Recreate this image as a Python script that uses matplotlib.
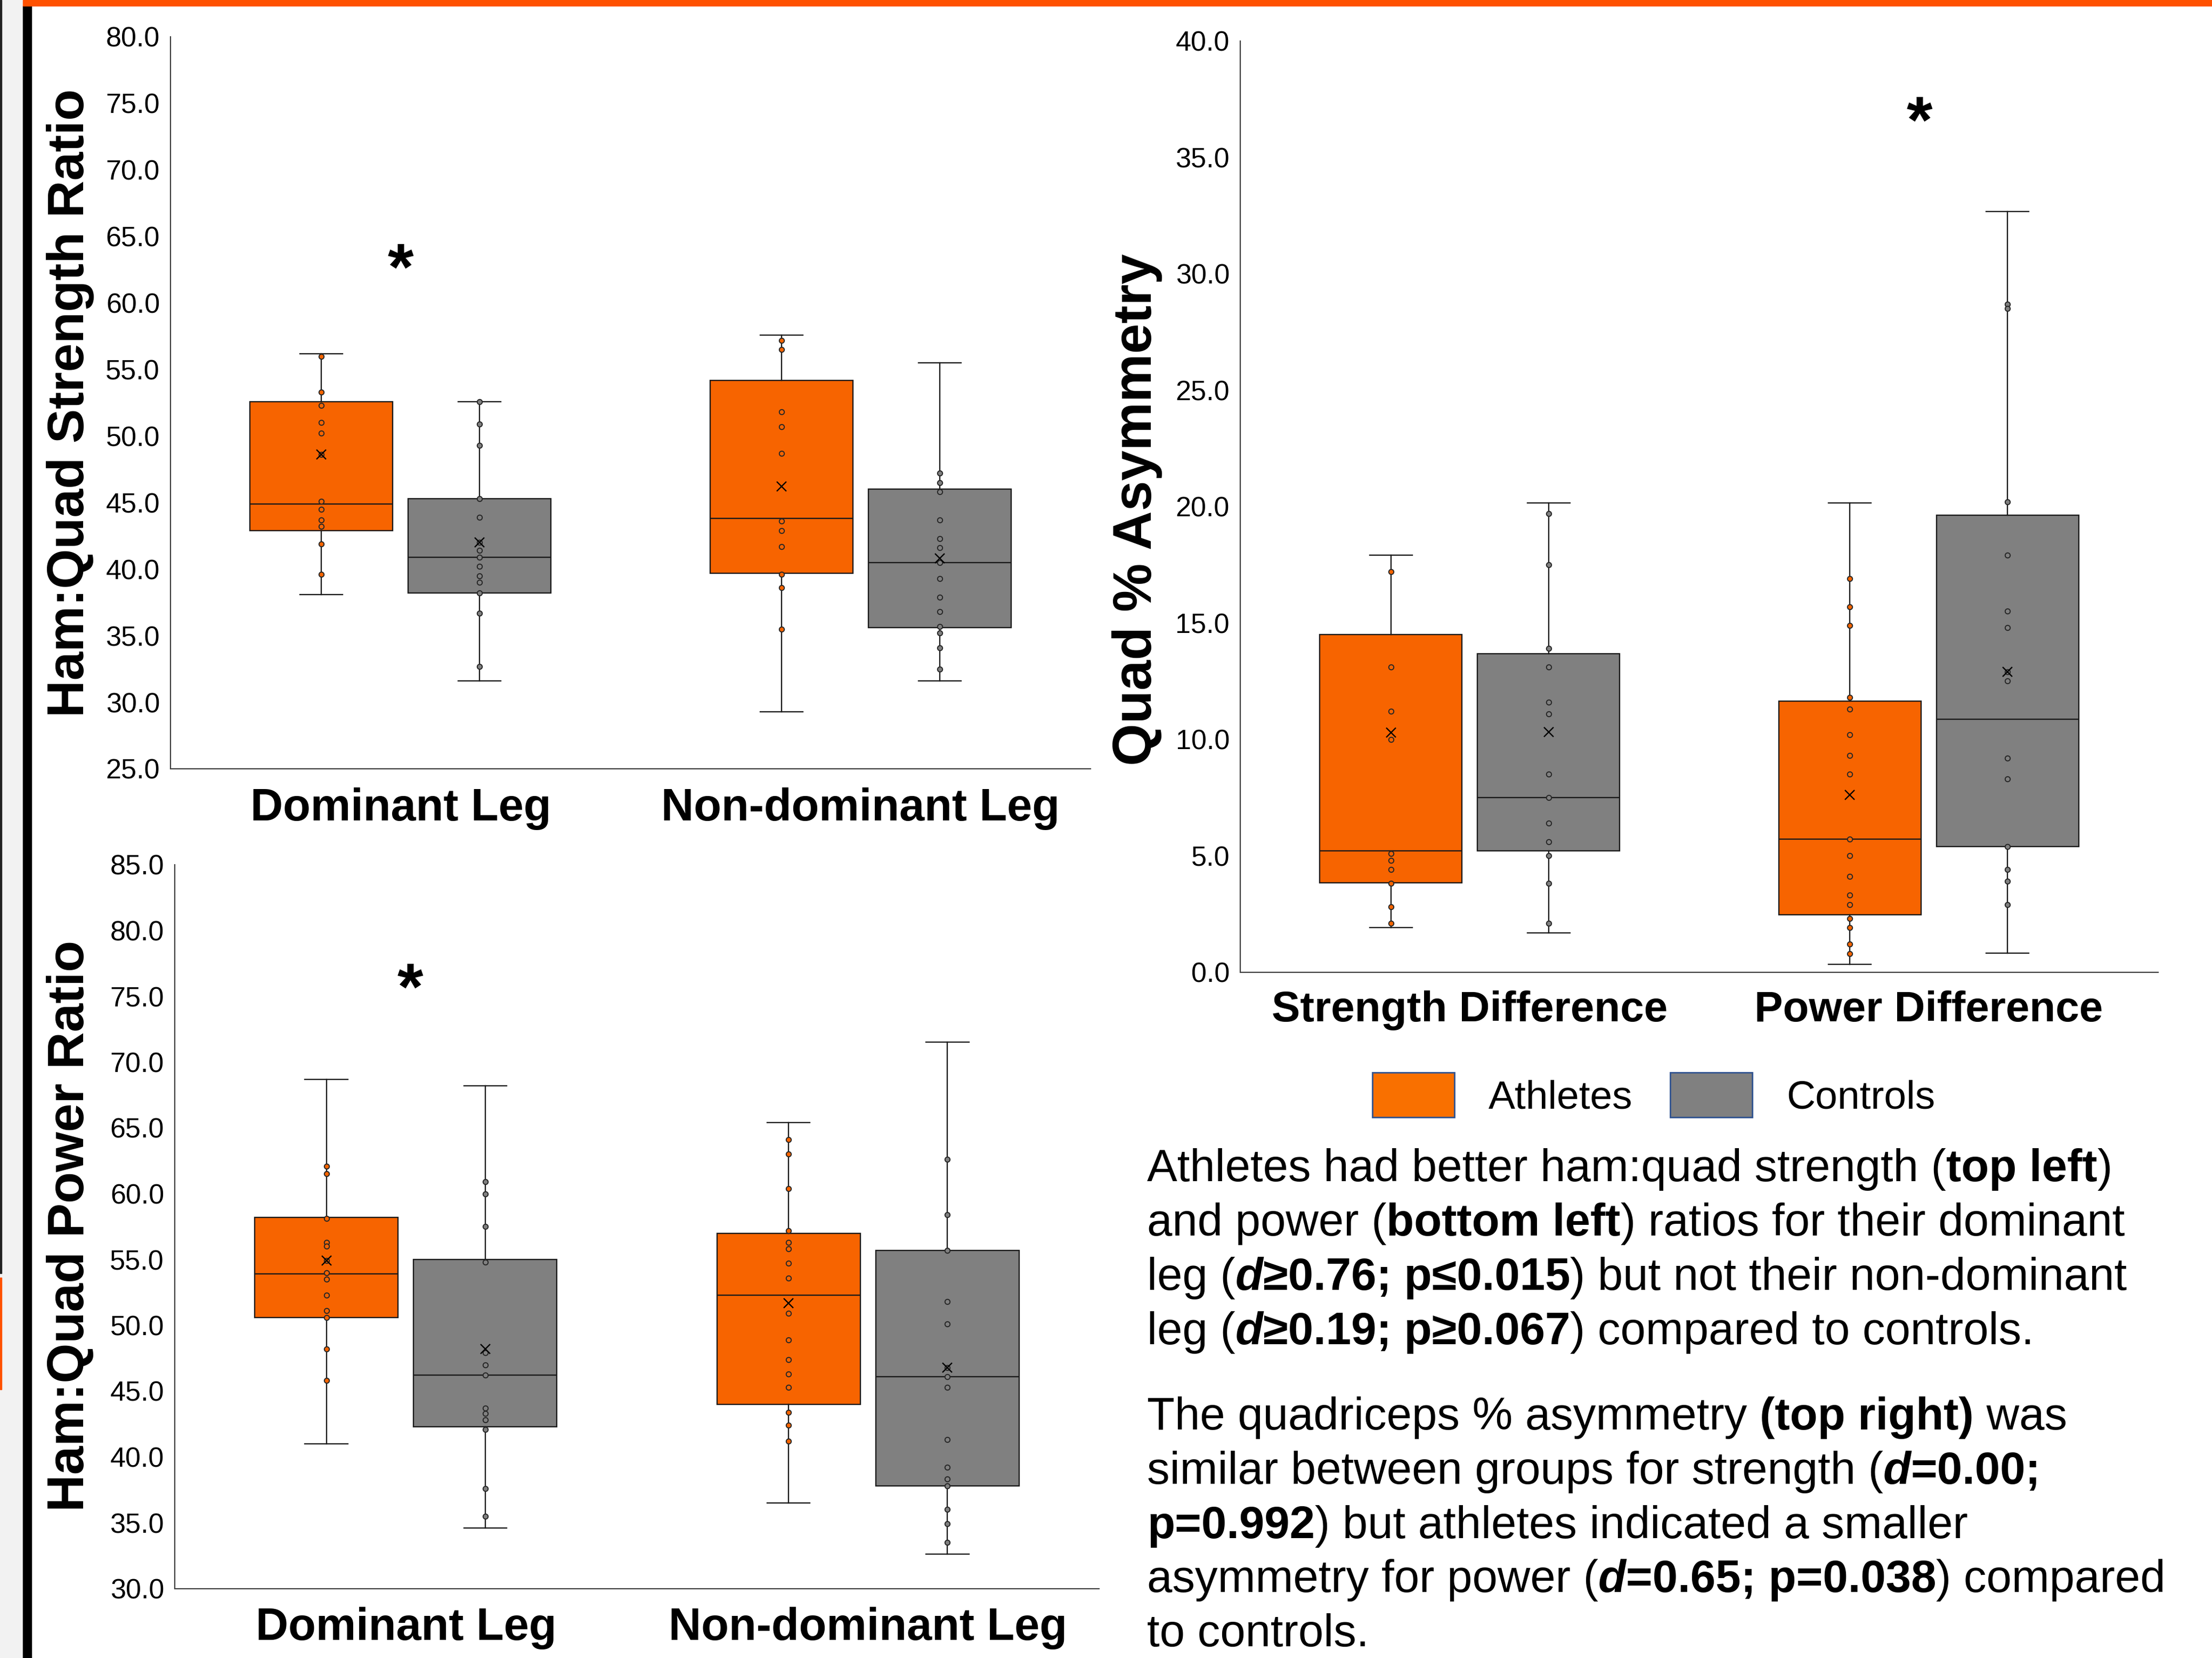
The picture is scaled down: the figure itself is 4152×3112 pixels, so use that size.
import numpy as np
import matplotlib
matplotlib.use("Agg")
import matplotlib.pyplot as plt
from matplotlib.patches import Rectangle, Patch

plt.rcParams['font.family'] = ['Liberation Sans', 'DejaVu Sans']

# ---------------- DATA ----------------
ratio_categories = ["Dominant Leg", "Non-dominant Leg"]
asym_categories = ["Strength Difference", "Power Difference"]
groups = ["Athletes", "Controls"]

# Ham:Quad Strength Ratio (top left) -- box stats [Dominant, Non-dominant]
str_ath_q1 = [42.9, 39.7]
str_ath_med = [44.9, 43.8]
str_ath_q3 = [52.6, 54.2]
str_ath_lo = [38.1, 29.3]
str_ath_hi = [56.2, 57.6]
str_ath_mean = [48.6, 46.2]
str_ath_pts_dom = [56.0, 53.3, 52.3, 51.0, 50.2, 48.6, 45.1, 44.5, 43.7, 43.2, 41.9, 39.6]
str_ath_pts_nondom = [57.2, 56.5, 51.8, 50.7, 48.7, 43.6, 42.9, 41.7, 39.6, 38.6, 35.5]

str_con_q1 = [38.2, 35.6]
str_con_med = [40.9, 40.5]
str_con_q3 = [45.3, 46.0]
str_con_lo = [31.6, 31.6]
str_con_hi = [52.6, 55.5]
str_con_mean = [42.0, 40.8]
str_con_pts_dom = [52.6, 50.9, 49.3, 45.3, 43.9, 42.0, 41.4, 40.9, 40.2, 39.5, 39.0, 38.2, 36.7, 32.7]
str_con_pts_nondom = [47.2, 46.5, 45.8, 43.7, 42.3, 41.6, 40.5, 39.3, 37.9, 36.8, 35.7, 35.2, 34.1, 32.5]

# Ham:Quad Power Ratio (bottom left)
pow_ath_q1 = [50.6, 44.0]
pow_ath_med = [53.9, 52.3]
pow_ath_q3 = [58.2, 57.0]
pow_ath_lo = [41.0, 36.5]
pow_ath_hi = [68.7, 65.4]
pow_ath_mean = [54.9, 51.7]
pow_ath_pts_dom = [62.1, 61.5, 58.1, 56.3, 56.0, 54.9, 54.0, 53.5, 52.3, 51.1, 50.6, 48.2, 45.8]
pow_ath_pts_nondom = [64.1, 63.0, 60.4, 57.2, 56.3, 55.8, 54.7, 53.6, 50.9, 48.9, 47.4, 46.3, 45.3, 43.4, 42.4, 41.2]

pow_con_q1 = [42.3, 37.8]
pow_con_med = [46.2, 46.1]
pow_con_q3 = [55.0, 55.7]
pow_con_lo = [34.6, 32.6]
pow_con_hi = [68.2, 71.5]
pow_con_mean = [48.2, 46.8]
pow_con_pts_dom = [60.9, 60.0, 57.5, 54.8, 47.9, 47.0, 46.2, 43.7, 43.3, 42.8, 42.1, 37.6, 35.5]
pow_con_pts_nondom = [62.6, 58.4, 55.7, 51.8, 50.1, 46.8, 46.1, 45.3, 41.3, 39.2, 38.3, 37.8, 36.0, 34.9, 33.5]

# Quad % Asymmetry (top right) -- [Strength Difference, Power Difference]
asy_ath_q1 = [3.83, 2.45]
asy_ath_med = [5.21, 5.70]
asy_ath_q3 = [14.50, 11.63]
asy_ath_lo = [1.90, 0.33]
asy_ath_hi = [17.91, 20.16]
asy_ath_mean = [10.28, 7.62]
asy_ath_pts_str = [17.2, 13.1, 11.2, 10.0, 5.1, 4.8, 4.4, 3.8, 2.8, 2.1]
asy_ath_pts_pow = [16.9, 15.7, 14.9, 11.8, 11.3, 10.2, 9.3, 8.5, 5.7, 5.0, 4.1, 3.3, 2.9, 2.3, 1.9, 1.2, 0.8]

asy_con_q1 = [5.20, 5.40]
asy_con_med = [7.49, 10.86]
asy_con_q3 = [13.68, 19.62]
asy_con_lo = [1.68, 0.82]
asy_con_hi = [20.16, 32.67]
asy_con_mean = [10.31, 12.89]
asy_con_pts_str = [19.7, 17.5, 13.9, 13.1, 11.6, 11.1, 8.5, 7.5, 6.4, 5.6, 5.0, 3.8, 2.1]
asy_con_pts_pow = [28.7, 28.5, 20.2, 17.9, 15.5, 14.8, 12.9, 12.5, 9.2, 8.3, 5.4, 4.4, 3.9, 2.9]

# ---------------- STYLE ----------------
W, H = 4152, 3112
ORANGE = '#F76400'
GREY = '#808080'
LEG_ORANGE = '#F97000'
EDGE = '#1a1a1a'
AXCOL = '#3a3a3a'
OFFSET = 0.172
BOXW = 0.31
CAPW = 0.093
TICK_FS = 37.5
XLAB_FS = 61
YLAB_FS = 69.5
TXT_FS = 61.3

fig = plt.figure(figsize=(W / 100, H / 100), dpi=100)
fig.patch.set_facecolor('white')


def px_axes(x0, y0, x1, y1):
    return fig.add_axes([x0 / W, 1 - y1 / H, (x1 - x0) / W, (y1 - y0) / H])


def make_stats(q1, med, q3, lo, hi, mean):
    return [dict(q1=q1[i], med=med[i], q3=q3[i], whislo=lo[i], whishi=hi[i],
                 mean=mean[i], fliers=[]) for i in range(len(q1))]


def draw_group(ax, stats, pts_lists, positions, color):
    r = ax.bxp(stats, positions=positions, widths=BOXW, capwidths=CAPW,
               patch_artist=True, showmeans=True, showfliers=False,
               boxprops=dict(facecolor=color, edgecolor=EDGE, linewidth=1.7),
               medianprops=dict(color=EDGE, linewidth=1.7),
               whiskerprops=dict(color=EDGE, linewidth=1.7),
               capprops=dict(color=EDGE, linewidth=1.7),
               meanprops=dict(marker='x', markeredgecolor='black',
                              markersize=13, markeredgewidth=1.7))
    for pos, pts in zip(positions, pts_lists):
        ax.plot(np.full(len(pts), pos), pts, linestyle='none', marker='o',
                markersize=6.8, markerfacecolor=color, markeredgecolor='#262626',
                markeredgewidth=1.4, zorder=4)
    for m in r['means']:
        m.set_zorder(5)


def style_axes(ax, ylim, yticks, cats, xfs):
    ax.set_xlim(-0.5, 1.5)
    ax.set_ylim(*ylim)
    ax.set_yticks(yticks)
    ax.set_yticklabels([f"{v:.1f}" for v in yticks])
    ax.set_xticks([0, 1])
    ax.set_xticklabels(cats, fontweight='bold', fontsize=xfs)
    ax.tick_params(axis='y', length=0, pad=14.4, labelsize=TICK_FS)
    ax.tick_params(axis='x', length=0, pad=25)
    for s in ['top', 'right']:
        ax.spines[s].set_visible(False)
    for s in ['left', 'bottom']:
        ax.spines[s].set_color(AXCOL)
        ax.spines[s].set_linewidth(1.5)
    ax.set_facecolor('none')


# ---------- Top-left: strength ratio ----------
ax1 = px_axes(320, 69, 2047, 1443)
draw_group(ax1, make_stats(str_ath_q1, str_ath_med, str_ath_q3, str_ath_lo, str_ath_hi, str_ath_mean),
           [str_ath_pts_dom, str_ath_pts_nondom], [0 - OFFSET, 1 - OFFSET], ORANGE)
draw_group(ax1, make_stats(str_con_q1, str_con_med, str_con_q3, str_con_lo, str_con_hi, str_con_mean),
           [str_con_pts_dom, str_con_pts_nondom], [0 + OFFSET, 1 + OFFSET], GREY)
style_axes(ax1, (25, 80), np.arange(25, 80.1, 5), ratio_categories, XLAB_FS)
ax1.text(0, 61.0, '*', ha='center', va='baseline', fontsize=90, fontweight='bold')

# ---------- Bottom-left: power ratio ----------
ax2 = px_axes(328, 1623, 2063, 2981.5)
draw_group(ax2, make_stats(pow_ath_q1, pow_ath_med, pow_ath_q3, pow_ath_lo, pow_ath_hi, pow_ath_mean),
           [pow_ath_pts_dom, pow_ath_pts_nondom], [0 - OFFSET, 1 - OFFSET], ORANGE)
draw_group(ax2, make_stats(pow_con_q1, pow_con_med, pow_con_q3, pow_con_lo, pow_con_hi, pow_con_mean),
           [pow_con_pts_dom, pow_con_pts_nondom], [0 + OFFSET, 1 + OFFSET], GREY)
style_axes(ax2, (30, 85), np.arange(30, 85.1, 5), ratio_categories, XLAB_FS)
ax2.text(0.01, 74.0, '*', ha='center', va='baseline', fontsize=90, fontweight='bold')

# ---------- Top-right: asymmetry ----------
ax3 = px_axes(2328, 77, 4051, 1824.5)
draw_group(ax3, make_stats(asy_ath_q1, asy_ath_med, asy_ath_q3, asy_ath_lo, asy_ath_hi, asy_ath_mean),
           [asy_ath_pts_str, asy_ath_pts_pow], [0 - OFFSET, 1 - OFFSET], ORANGE)
draw_group(ax3, make_stats(asy_con_q1, asy_con_med, asy_con_q3, asy_con_lo, asy_con_hi, asy_con_mean),
           [asy_con_pts_str, asy_con_pts_pow], [0 + OFFSET, 1 + OFFSET], GREY)
style_axes(ax3, (0, 40), np.arange(0, 40.1, 5), asym_categories, 57.7)
ax3.text(0.98, 35.64, '*', ha='center', va='baseline', fontsize=90, fontweight='bold')

# ---------- Y labels ----------
fig.text(132 / W, 1 - 756 / H, 'Ham:Quad Strength Ratio', rotation=90, ha='center', va='center',
         fontsize=YLAB_FS, fontweight='bold')
fig.text(132 / W, 1 - 2301 / H, 'Ham:Quad Power Ratio', rotation=90, ha='center', va='center',
         fontsize=YLAB_FS, fontweight='bold')
fig.text(2134 / W, 1 - 957 / H, 'Quad % Asymmetry', rotation=90, ha='center', va='center',
         fontsize=73.5, fontweight='bold')

# ---------- Legend ----------
handles = [Patch(facecolor=LEG_ORANGE, edgecolor='#2F528F', linewidth=2, label=groups[0]),
           Patch(facecolor=GREY, edgecolor='#2F528F', linewidth=2, label=groups[1])]
fig.legend(handles=handles, loc='center left', bbox_to_anchor=(2576 / W, 1 - 2055 / H),
           ncol=2, frameon=False, fontsize=54, handlelength=2.05, handleheight=1.35,
           handletextpad=0.85, columnspacing=0.95, borderpad=0, borderaxespad=0)

# ---------- Paragraph text ----------
renderer = fig.canvas.get_renderer()


def seg_width(text, weight, style):
    t1 = fig.text(0, 0, '|' + text + '|', fontsize=TXT_FS, fontweight=weight, fontstyle=style)
    t2 = fig.text(0, 0, '||', fontsize=TXT_FS, fontweight=weight, fontstyle=style)
    w = t1.get_window_extent(renderer).width - t2.get_window_extent(renderer).width
    t1.remove()
    t2.remove()
    return w


def rich_line(x_px, y_px, segs):
    x = x_px
    for text, weight, style in segs:
        fig.text(x / W, 1 - y_px / H, text, fontsize=TXT_FS, fontweight=weight,
                 fontstyle=style, ha='left', va='baseline')
        x += seg_width(text, weight, style)


N, B = 'normal', 'bold'
I = 'italic'
lines = [
    (2217, [("Athletes had better ham:quad strength (", N, N), ("top left", B, N), (")", N, N)]),
    (2319, [("and power (", N, N), ("bottom left", B, N), (") ratios for their dominant", N, N)]),
    (2421, [("leg (", N, N), ("d", B, I), ("\u22650.76; p\u22640.015", B, N), (") but not their non-dominant", N, N)]),
    (2523, [("leg (", N, N), ("d", B, I), ("\u22650.19; p\u22650.067", B, N), (") compared to controls.", N, N)]),
    (2683, [("The quadriceps % asymmetry ", N, N), ("(top right)", B, N), (" was", N, N)]),
    (2785, [("similar between groups for strength (", N, N), ("d", B, I), ("=0.00;", B, N)]),
    (2887, [("p=0.992", B, N), (") but athletes indicated a smaller", N, N)]),
    (2988, [("asymmetry for power (", N, N), ("d", B, I), ("=0.65; p=0.038", B, N), (") compared", N, N)]),
    (3090, [("to controls.", N, N)]),
]
for y, segs in lines:
    rich_line(2153, y, segs)

# ---------- Poster decorations ----------
fig.add_artist(Rectangle((0, 0), 43 / W, 1, transform=fig.transFigure, color='#F2F2F2', zorder=0))
fig.add_artist(Rectangle((43 / W, 0), 16 / W, 1 - 11 / H, transform=fig.transFigure, color='black', zorder=1))
fig.add_artist(Rectangle((43 / W, 1 - 11 / H), 1, 11 / H, transform=fig.transFigure, color='#FF5100', zorder=1))
fig.add_artist(Rectangle((0, 1 - 2390 / H), 3 / W, 2390 / H, transform=fig.transFigure, color='#222222', zorder=1))
fig.add_artist(Rectangle((0, 1 - 2608 / H), 3 / W, 210 / H, transform=fig.transFigure, color='#FF5100', zorder=1))

fig.savefig('out.png', dpi=100, facecolor='white')
